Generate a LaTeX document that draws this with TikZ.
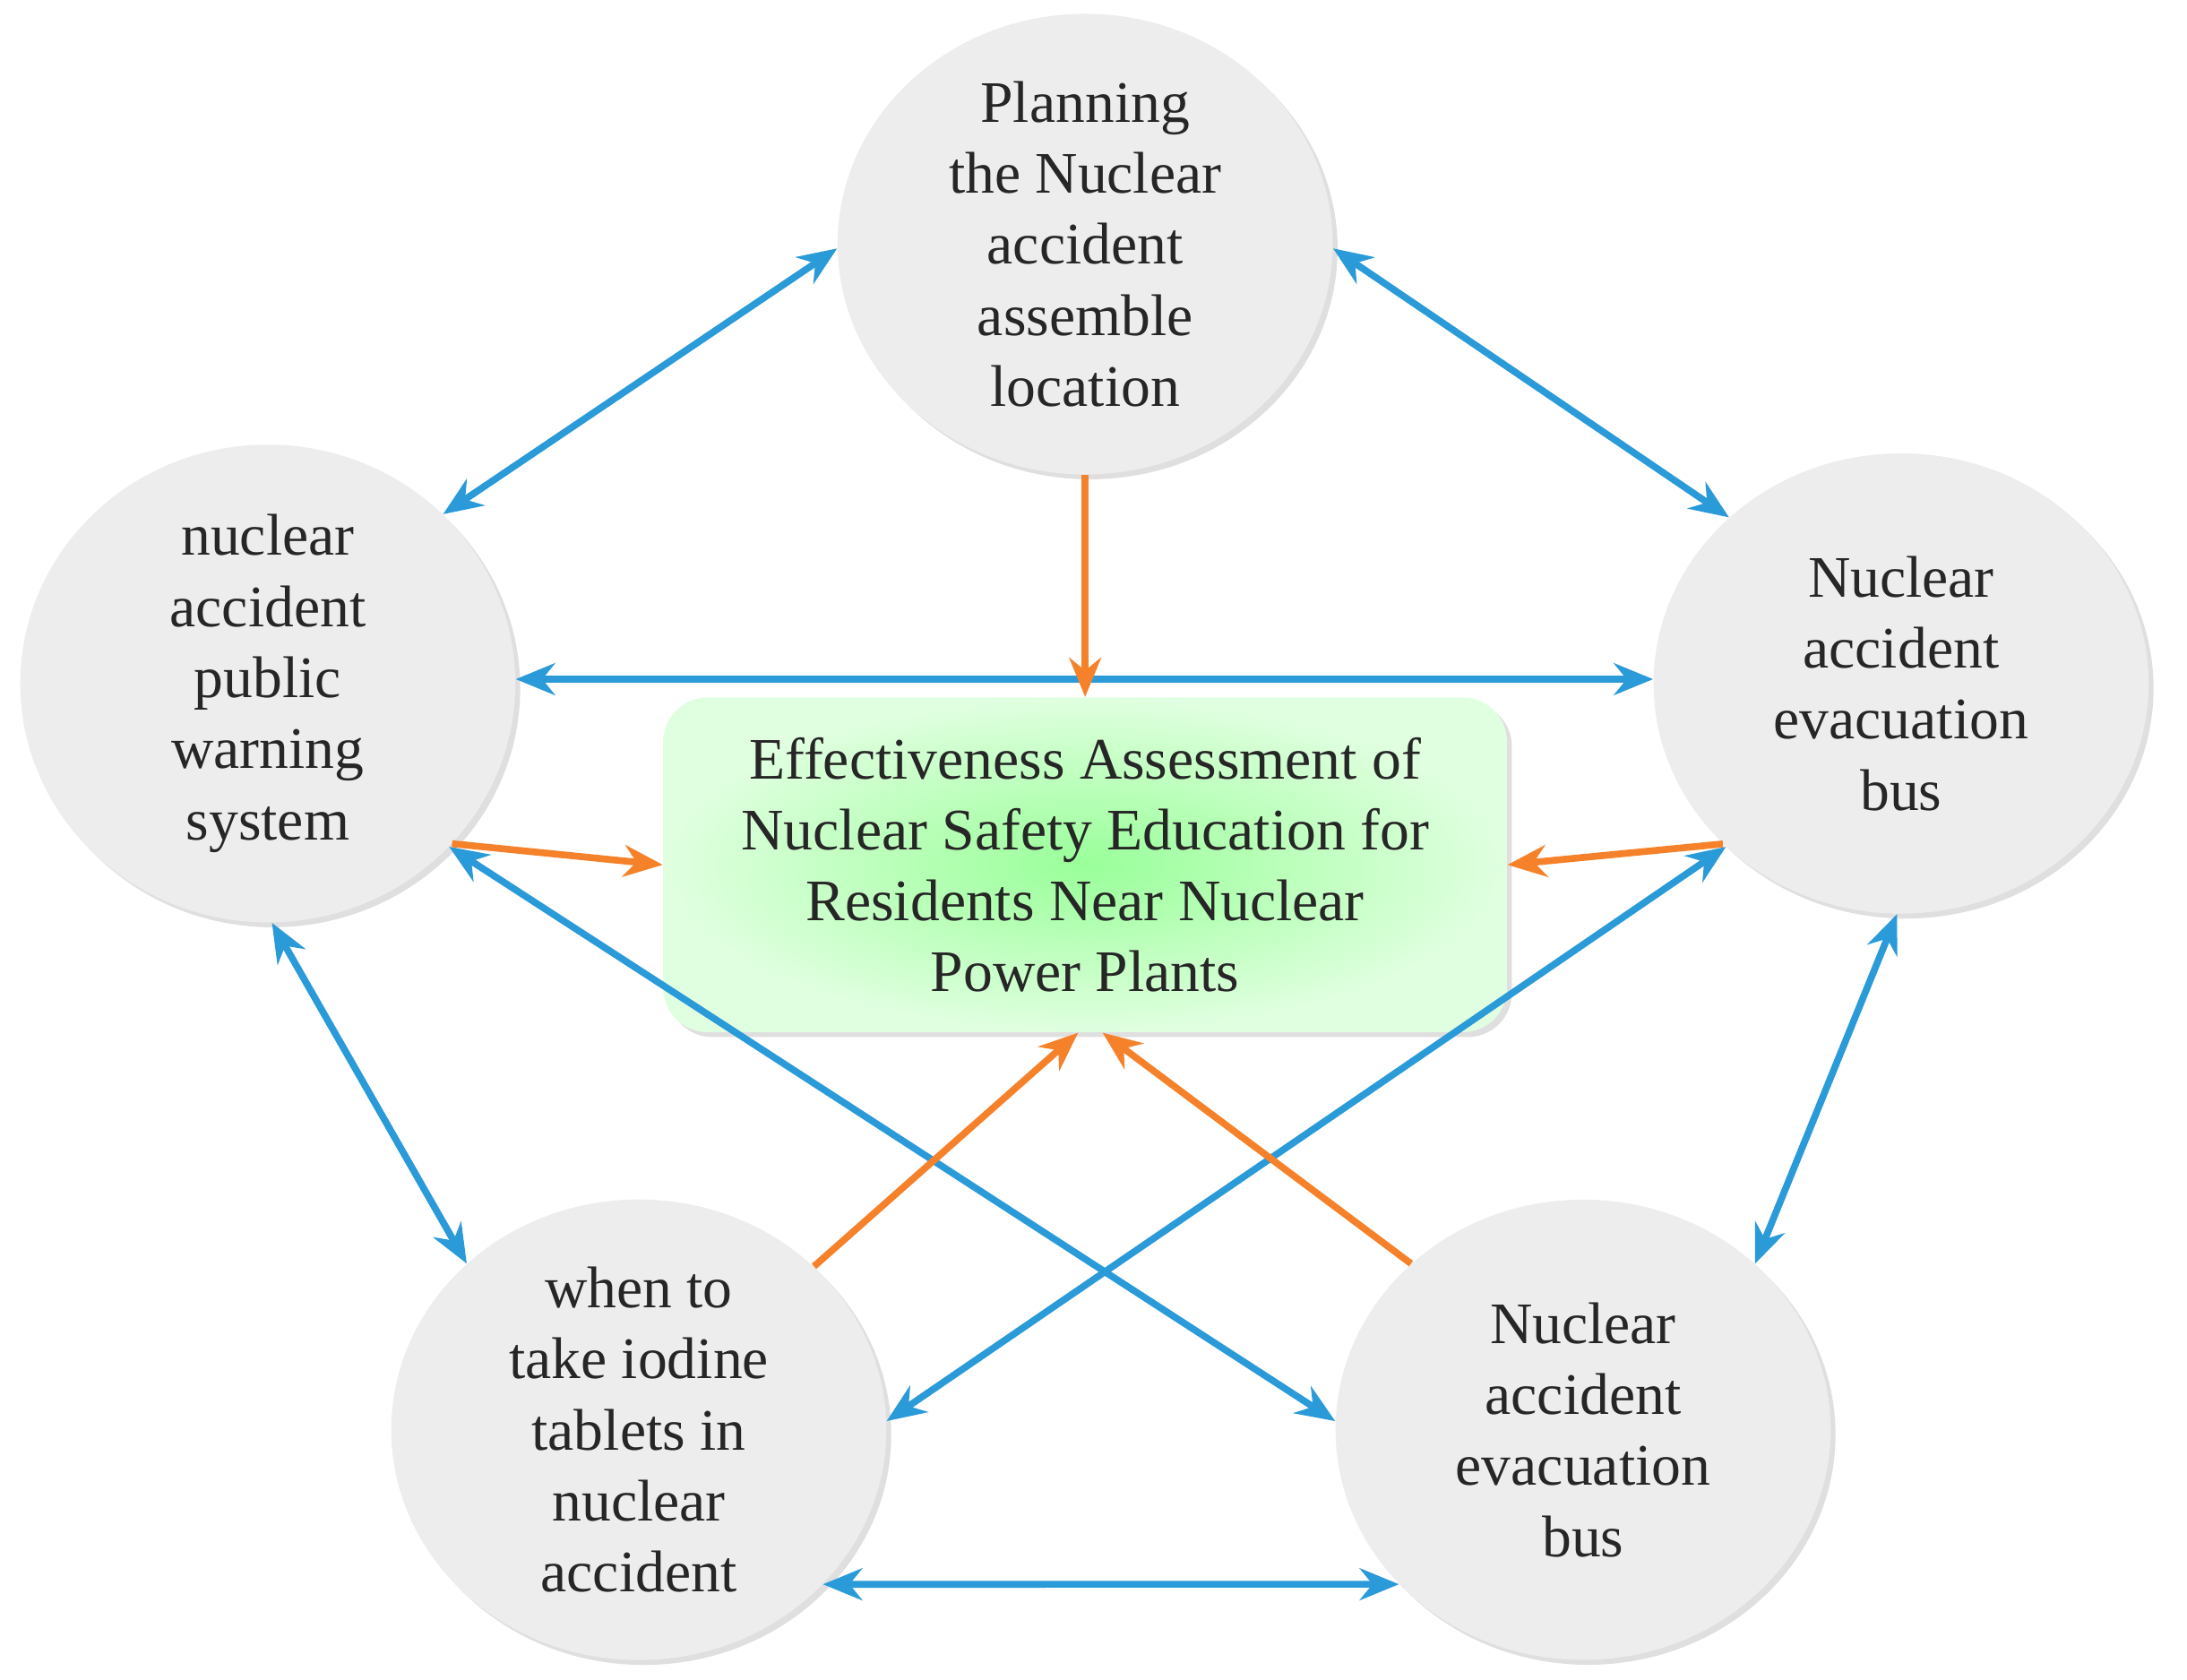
\documentclass[tikz,border=0pt]{standalone}
\usepackage{fontspec}
\setmainfont{Liberation Serif}
\usetikzlibrary{shapes.geometric,arrows.meta,shadows}
\definecolor{bl}{HTML}{2A9AD8}
\definecolor{orn}{HTML}{F5822A}
\begin{document}
\begin{tikzpicture}[x=0.02cm,y=-0.02cm,
 circ/.style={ellipse,minimum width=7.1cm,minimum height=6.6cm,fill=gray!14,draw=none,
   drop shadow={opacity=0.25,shadow xshift=2pt,shadow yshift=-2pt},align=center,inner sep=0pt,
   font=\fontsize{24}{29}\selectfont,text=black!85},
 bi/.style={bl,line width=2.8pt,{Stealth[length=16pt,width=13pt]}-{Stealth[length=16pt,width=13pt]}},
 one/.style={orn,line width=2.8pt,-{Stealth[length=16pt,width=13pt]}}]
\useasboundingbox (0,0) rectangle (1568,1204);
\node[circ] (t) at (778,175) {Planning\\the Nuclear\\accident\\assemble\\location};
\node[circ] (l) at (192,490) {nuclear\\accident\\public\\warning\\system};
\node[circ] (r) at (1363,490) {Nuclear\\accident\\evacuation\\bus};
\node[circ] (bl) at (458,1025) {when to\\take iodine\\tablets in\\nuclear\\accident};
\node[circ] (br) at (1135,1025) {Nuclear\\accident\\evacuation\\bus};
\node[rounded corners=18pt,minimum width=12.1cm,minimum height=4.8cm,
  inner color=green!40!white,outer color=green!12!white,
  drop shadow={opacity=0.25,shadow xshift=2pt,shadow yshift=-2pt},
  align=center,font=\fontsize{24}{29}\selectfont,text=black!85] (c) at (778,620)
  {Effectiveness Assessment of\\Nuclear Safety Education for\\Residents Near Nuclear\\Power Plants};
\draw[bi] (t.181) -- (l.44);
\draw[bi] (t.359) -- (r.136);
\draw[bi] (l.1) -- (r.179);
\draw[bi] (l.271) -- (bl.136);
\draw[bi] (r.269) -- (br.44);
\draw[bi] (bl.320) -- (br.220);
\draw[bi] (l.318) -- (br.178);
\draw[bi] (r.223) -- (bl.2);
\draw[one] (t.south) -- (c.north);
\draw[one] (l.319) -- (c.west);
\draw[one] (r.222) -- (c.east);
\draw[one] (bl.43) -- ([xshift=-0.1cm]c.south);
\draw[one] (br.136) -- ([xshift=0.25cm]c.south);
\end{tikzpicture}
\end{document}
